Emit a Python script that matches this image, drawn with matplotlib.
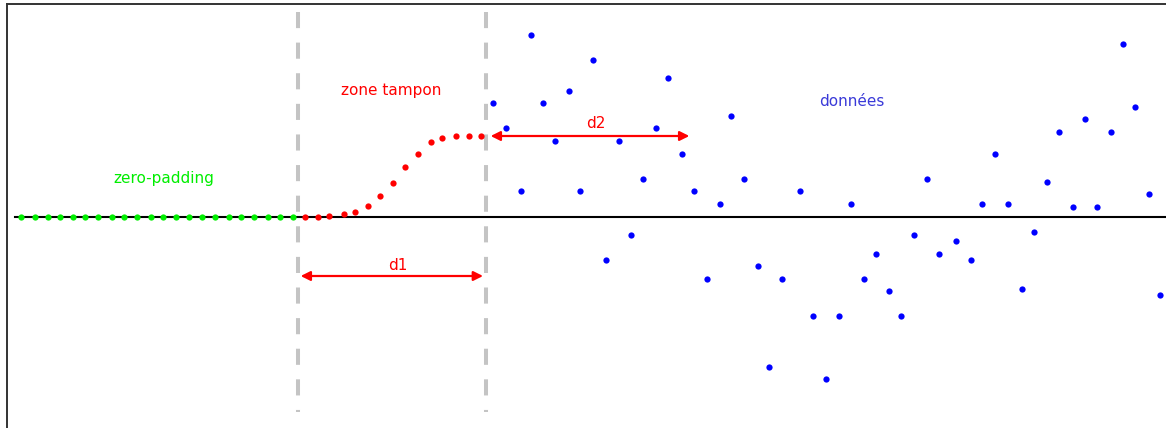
import matplotlib
matplotlib.use("Agg")
import matplotlib.pyplot as plt

# positions (horizontal, pixel-like units) and amplitudes
green_x = [20.7, 35, 47.7, 60.3, 72.7, 85.3, 97.7, 112, 124.3, 136.7, 150.7,
           163, 175.7, 189.3, 202, 214.7, 228.7, 241.3, 254, 267.7, 280.3, 292.7]
green_y = [0.0] * len(green_x)

red_x = [305, 317.7, 329.3, 343.7, 355.3, 368, 380.3, 393, 405.3, 418,
         431.3, 442.3, 455.7, 468.7, 480.7]
red_y = [0.0, 0.0, 0.1, 0.3, 0.5, 1.1, 2.1, 3.4, 5.0, 6.3, 7.5, 7.9, 8.1, 8.1, 8.1]

blue_x = [493.3, 506, 521.3, 531, 543.3, 555.3, 568.7, 580.3, 593.3, 606.3,
          618.7, 631.3, 643.3, 655.7, 668, 682, 694, 706.7, 719.7, 731.3,
          744, 757.7, 769, 781.7, 799.7, 813, 826, 839, 850.7, 864,
          875.7, 889, 900.7, 914.3, 926.7, 938.7, 956.3, 970.7, 982.3, 995.3,
          1008, 1022.3, 1034.3, 1046.7, 1059.3, 1073.3, 1085, 1097.3, 1111, 1122.7,
          1135, 1148.7, 1160]
blue_y = [11.4, 8.9, 2.6, 18.2, 11.4, 7.6, 12.6, 2.6, 15.7, -4.3,
          7.6, -1.8, 3.8, 8.9, 13.9, 6.3, 2.6, -6.2, 1.3, 10.1,
          3.8, -4.9, -15.0, -6.2, 2.6, -9.9, -16.2, -9.9, 1.3, -6.2,
          -3.7, -7.4, -9.9, -1.8, 3.8, -3.7, -2.4, -4.3, 1.3, 6.3,
          1.3, -7.2, -1.5, 3.5, 8.5, 1.0, 9.8, 1.0, 8.5, 17.3,
          11.0, 2.3, -7.8]

borders = [298.3, 486.3]
d1 = (300.7, 483, -5.9)
d2 = (490.7, 689.3, 8.1)

fig = plt.figure(figsize=(11.66, 4.28), dpi=100)
ax = fig.add_axes([7 / 1166, 0, 1 - 7 / 1166, 424 / 428])
ax.set_xlim(7, 1166)
ax.set_ylim(-21.1, 21.3)
ax.set_xticks([])
ax.set_yticks([])
ax.spines['right'].set_visible(False)
ax.spines['bottom'].set_visible(False)
for s in ['left', 'top']:
    ax.spines[s].set_linewidth(1.4)
    ax.spines[s].set_color('#333333')

# zero line
ax.plot([15, 1166], [0, 0], color='black', lw=1.5, zorder=1)

# dashed borders
for b in borders:
    ax.plot([b, b], [20.5, -19.5], color='#c4c4c4', lw=2.9,
            linestyle=(0, (4, 3.6)), zorder=0)

ax.plot(green_x, green_y, 'o', color='#00ee00', ms=4.5, mec='none', zorder=3)
ax.plot(red_x, red_y, 'o', color='#ff0000', ms=4.5, mec='none', zorder=3)
ax.plot(blue_x, blue_y, 'o', color='#0000ff', ms=4.5, mec='none', zorder=3)

arrow = dict(arrowstyle='<|-|>', color='#ff0000', lw=1.6,
             mutation_scale=14, shrinkA=0, shrinkB=0)
ax.annotate('', xy=(d1[0], d1[2]), xytext=(d1[1], d1[2]), arrowprops=arrow)
ax.annotate('', xy=(d2[0], d2[2]), xytext=(d2[1], d2[2]), arrowprops=arrow)

ax.text(398, -4.8, 'd1', color='#ff0000', fontsize=11, ha='center', va='center')
ax.text(596, 9.3, 'd2', color='#ff0000', fontsize=11, ha='center', va='center')
ax.text(164, 3.9, 'zero-padding', color='#00ee00', fontsize=11, ha='center', va='center')
ax.text(391, 12.6, 'zone tampon', color='#ff0000', fontsize=11, ha='center', va='center')
ax.text(852, 11.5, 'données', color='#3a3ad8', fontsize=11, ha='center', va='center')

fig.savefig('out.png', dpi=100)
